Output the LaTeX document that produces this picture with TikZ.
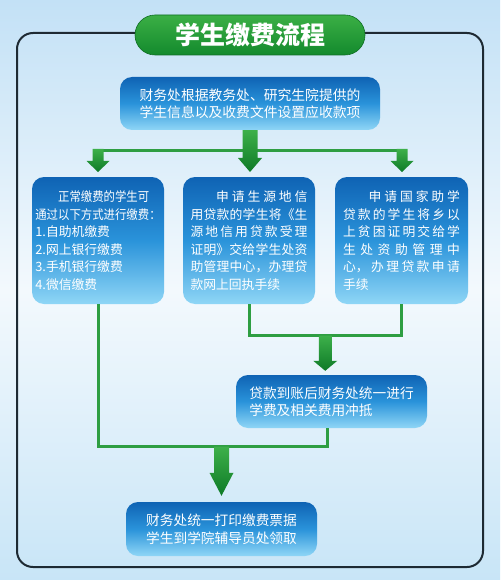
\documentclass[tikz,border=0pt]{standalone}
\usepackage{fontspec}
\usepackage{graphicx}
\setmainfont{Noto Sans CJK SC}
\usetikzlibrary{calc}
\XeTeXlinebreaklocale "zh"
\definecolor{bgtop}{HTML}{C3E1F6}
\definecolor{bgmid}{HTML}{F3F9FD}
\definecolor{bgbot}{HTML}{C8E5F7}
\definecolor{framec}{HTML}{1E2A33}
\definecolor{boxtop}{HTML}{0F63B4}
\definecolor{boxmid}{HTML}{2A93DA}
\definecolor{boxbot}{HTML}{8FD6F6}
\definecolor{glinec}{HTML}{2E9E42}
\definecolor{arrtop}{HTML}{3DB04A}
\definecolor{arrbot}{HTML}{0E7A27}
\definecolor{titletop}{HTML}{3BAF45}
\definecolor{titlebot}{HTML}{138A2D}
\newcommand\barrow[5]{%
  \shade[arrowsh] let \p1=(#1), \p2=(#2) in
  (\x1-#3pt,\y1) -- (\x1+#3pt,\y1) -- (\x1+#3pt,\y2+#5pt) -- (\x1+#4pt,\y2+#5pt)
  -- (\x1,\y2) -- (\x1-#4pt,\y2+#5pt) -- (\x1-#3pt,\y2+#5pt) -- cycle;}
\begin{document}
\begin{tikzpicture}[x=1pt,y=-1pt,
  box/.style={rounded corners=12pt, top color=boxtop, bottom color=boxbot, middle color=boxmid,
    text=white, inner sep=0pt},
  gline/.style={draw=glinec, line width=3pt},
  arrowsh/.style={top color=arrtop, bottom color=arrbot},
  titlebox/.style={rounded corners=20pt, top color=titletop, bottom color=titlebot,
    draw=titlebot!80!black, line width=0.6pt,
    minimum width=230pt, minimum height=40pt, text=white,
    font=\fontsize{25}{28}\selectfont\bfseries},
  midfont/.style={font=\fontsize{12.8}{17.5}\selectfont}
]
\useasboundingbox (0,0) rectangle (500,580);
\shade[top color=bgtop, bottom color=bgbot, middle color=bgmid] (0,0) rectangle (500,580);
\draw[framec, line width=2pt, rounded corners=16pt] (17,33) rectangle (483,567);
\node[titlebox] (title) at (250,35) {学生缴费流程};

\node[box, minimum width=260pt, minimum height=53pt, align=center,
  font=\fontsize{13.8}{16.7}\selectfont] (top) at (250,103.5)
  {财务处根据教务处、研究生院提供的\\学生信息以及收费文件设置应收款项};

\node[box, minimum width=132pt, minimum height=127pt, align=left, midfont] (b1) at (98,240.5)
  {\scalebox{0.89}[1]{\hspace*{2em}正常缴费的学生可}\\
   \scalebox{0.89}[1]{通过以下方式进行缴费：}\\
   1.自助机缴费\\2.网上银行缴费\\3.手机银行缴费\\4.微信缴费};

\node[box, minimum width=132pt, minimum height=127pt, text width=117pt, align=justify, midfont] (b2) at (249,240.5)
  {\XeTeXlinebreakskip=0pt plus 10pt\hspace*{2em}申请生源地信\linebreak 用贷款的学生将《生\linebreak 源地信用贷款受理\linebreak 证明》交给学生处资\linebreak 助管理中心，办理贷\linebreak 款网上回执手续};

\node[box, minimum width=133pt, minimum height=127pt, text width=117pt, align=justify, midfont] (b3) at (401.5,240.5)
  {\XeTeXlinebreakskip=0pt plus 10pt\hspace*{2em}申请国家助学\linebreak 贷款的学生将乡以\linebreak 上贫困证明交给学\linebreak 生处资助管理中\linebreak 心，办理贷款申请\linebreak 手续};

\node[box, minimum width=191pt, minimum height=53pt, align=left,
  font=\fontsize{13.7}{16.7}\selectfont] (loan) at (331.5,401.5)
  {贷款到账后财务处统一进行\\学费及相关费用冲抵};

\node[box, minimum width=191pt, minimum height=54pt, align=center,
  font=\fontsize{13.7}{18}\selectfont] (final) at (221.5,529)
  {财务处统一打印缴费票据\\学生到学院辅导员处领取};

% fork below top box
\coordinate (fL) at (98,150.5);
\coordinate (fR) at (402,150.5);
\draw[gline] (fL) -- (fR);
\coordinate (aL) at (98,149);
\coordinate (tL) at (98,172);
\coordinate (aR) at (402,149);
\coordinate (tR) at (402,172);
\coordinate (tC) at (250,172);
\barrow{aL}{tL}{5.5}{11.5}{11}
\barrow{aR}{tR}{5.5}{11.5}{11}
\barrow{top.south}{tC}{7.5}{12}{14}

% bracket from b2, b3 to loan box
\coordinate (brk) at (0,335.5);
\draw[gline] (b2.south) -- (b2.south |- brk) -- (b3.south |- brk) -- (b3.south);
\coordinate (bm) at ($(b2.south |- brk)!0.5!(b3.south |- brk)$);
\coordinate (bmt) at ($(bm |- loan.north)+(0,-4)$);
\barrow{bm}{bmt}{6.5}{12}{10}

% bottom collector
\coordinate (bot) at (0,446.5);
\coordinate (lp) at ($(loan.south)+(-4.5,0)$);
\draw[gline] (b1.south) -- (b1.south |- bot) -- (lp |- bot) -- (lp);
\coordinate (fs) at (final.north |- bot);
\coordinate (ft) at ($(final.north)+(0,-6)$);
\barrow{fs}{ft}{7.5}{12}{23}
\end{tikzpicture}
\end{document}
